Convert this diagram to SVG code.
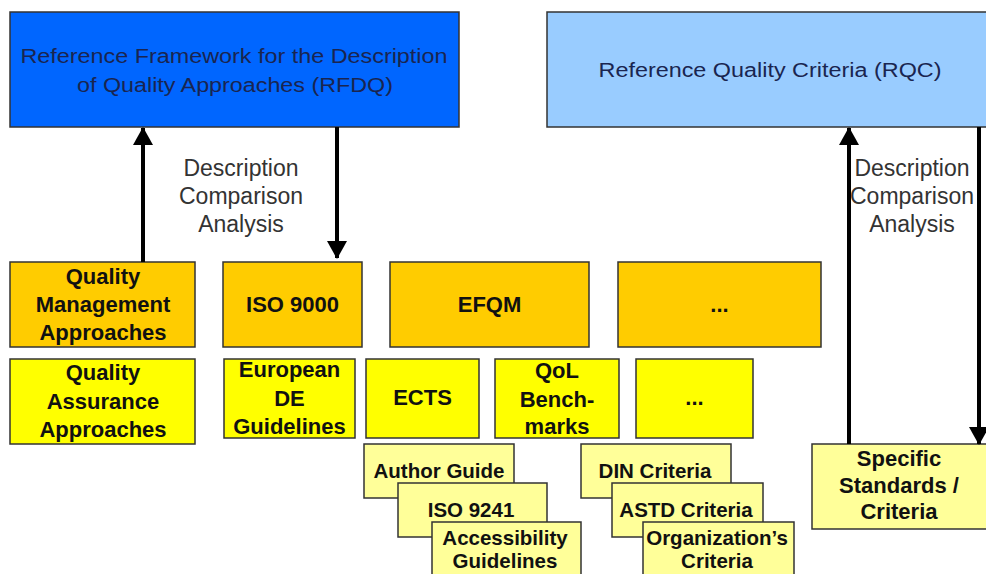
<svg xmlns="http://www.w3.org/2000/svg" width="986" height="574" viewBox="0 0 986 574">
<defs>
<marker id="ah" viewBox="0 0 18 20" refX="17" refY="10" markerWidth="18" markerHeight="20" markerUnits="userSpaceOnUse" orient="auto">
<path d="M0,0 L18,10 L0,20 Z" fill="#000"/>
</marker>
</defs>
<style>
.box{stroke:#333;stroke-width:1.5}
.blue{fill:#0066FF}
.lblue{fill:#99CCFF}
.orange{fill:#FFCC00}
.yellow{fill:#FFFF00}
.pale{fill:#FFFF99}
.t{font-family:"Liberation Sans",Arial,sans-serif;text-anchor:middle}
.title{fill:#1a2550;font-size:20px}
.b{font-weight:bold;fill:#111;font-size:22px}
.s{font-weight:bold;fill:#111;font-size:20.5px}
.lab{fill:#333;font-size:23px}
.conn{stroke:#000;stroke-width:4;fill:none}
</style>
<rect width="986" height="574" fill="#fff"/>
<g id="rfdq">
<rect class="box blue" x="10" y="12" width="449" height="115"/>
<text class="t title" x="234" y="63" textLength="427" lengthAdjust="spacingAndGlyphs">Reference Framework for the Description</text>
<text class="t title" x="235" y="92" textLength="316" lengthAdjust="spacingAndGlyphs">of Quality Approaches (RFDQ)</text>
</g>
<g id="rqc">
<rect class="box lblue" x="547" y="12" width="450" height="115"/>
<text class="t title" x="770" y="77" font-size="21" textLength="343" lengthAdjust="spacingAndGlyphs">Reference Quality Criteria (RQC)</text>
</g>
<g id="labels">
<text class="t lab" x="241" y="176">Description</text>
<text class="t lab" x="241" y="204">Comparison</text>
<text class="t lab" x="241" y="232">Analysis</text>
<text class="t lab" x="912" y="176">Description</text>
<text class="t lab" x="912" y="204">Comparison</text>
<text class="t lab" x="912" y="232">Analysis</text>
</g>
<g id="qma">
<rect class="box orange" x="10" y="262" width="185" height="85"/>
<text class="t b" x="103" y="284">Quality</text>
<text class="t b" x="103" y="312">Management</text>
<text class="t b" x="103" y="340">Approaches</text>
</g>
<g id="iso9000">
<rect class="box orange" x="223" y="262" width="139" height="85"/>
<text class="t b" x="292.5" y="312">ISO 9000</text>
</g>
<g id="efqm">
<rect class="box orange" x="390" y="262" width="199" height="85"/>
<text class="t b" x="489.5" y="312">EFQM</text>
</g>
<g id="more1">
<rect class="box orange" x="618" y="262" width="203" height="85"/>
<text class="t b" x="719.5" y="312">...</text>
</g>
<g id="qaa">
<rect class="box yellow" x="10" y="359" width="185" height="85"/>
<text class="t b" x="103" y="380">Quality</text>
<text class="t b" x="103" y="409">Assurance</text>
<text class="t b" x="103" y="437">Approaches</text>
</g>
<g id="european">
<rect class="box yellow" x="224" y="359" width="131" height="79"/>
<text class="t b" x="289.5" y="377">European</text>
<text class="t b" x="289.5" y="406">DE</text>
<text class="t b" x="289.5" y="434">Guidelines</text>
</g>
<g id="ects">
<rect class="box yellow" x="366" y="359" width="113" height="79"/>
<text class="t b" x="422.5" y="405">ECTS</text>
</g>
<g id="qol">
<rect class="box yellow" x="495" y="359" width="124" height="79"/>
<text class="t b" x="557" y="378">QoL</text>
<text class="t b" x="557" y="407">Bench-</text>
<text class="t b" x="557" y="434">marks</text>
</g>
<g id="more2">
<rect class="box yellow" x="636" y="359" width="117" height="79"/>
<text class="t b" x="694.5" y="405">...</text>
</g>
<g id="author">
<rect class="box pale" x="364" y="444" width="150" height="54"/>
<text class="t s" x="439" y="478">Author Guide</text>
</g>
<g id="iso9241">
<rect class="box pale" x="398" y="483" width="149" height="54"/>
<text class="t s" x="471" y="517">ISO 9241</text>
</g>
<g id="access">
<rect class="box pale" x="432" y="522" width="149" height="60"/>
<text class="t s" x="505" y="545">Accessibility</text>
<text class="t s" x="505" y="568">Guidelines</text>
</g>
<g id="din">
<rect class="box pale" x="581" y="444" width="150" height="54"/>
<text class="t s" x="655" y="478">DIN Criteria</text>
</g>
<g id="astd">
<rect class="box pale" x="612" y="483" width="151" height="54"/>
<text class="t s" x="686" y="517">ASTD Criteria</text>
</g>
<g id="org">
<rect class="box pale" x="643" y="522" width="151" height="60"/>
<text class="t s" x="717" y="545">Organization’s</text>
<text class="t s" x="717" y="568">Criteria</text>
</g>
<g id="specific">
<rect class="box pale" x="812" y="444" width="185" height="85"/>
<text class="t b" x="899" y="466">Specific</text>
<text class="t b" x="899" y="493">Standards /</text>
<text class="t b" x="899" y="519">Criteria</text>
</g>
<g id="connectors">
<line class="conn" x1="143" y1="262" x2="143" y2="128" marker-end="url(#ah)"/>
<line class="conn" x1="337" y1="127" x2="337" y2="258" marker-end="url(#ah)"/>
<line class="conn" x1="849" y1="444" x2="849" y2="128" marker-end="url(#ah)"/>
<line class="conn" x1="979" y1="127" x2="979" y2="444" marker-end="url(#ah)"/>
</g>
</svg>
